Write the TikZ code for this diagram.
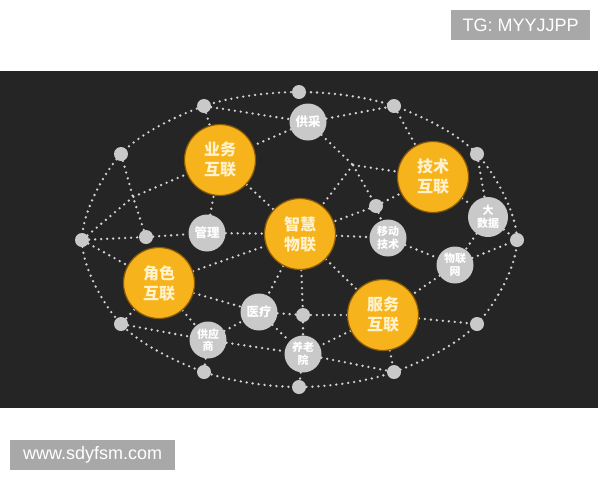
\documentclass[tikz,border=0pt]{standalone}
\usepackage{fontspec}
\setmainfont{Liberation Sans}
\newfontfamily\cjk{Noto Sans CJK SC}
\definecolor{myorange}{HTML}{F7B31B}
\definecolor{myorangedark}{HTML}{8A5A05}
\definecolor{mycream}{HTML}{FFF2CC}
\definecolor{mygray}{HTML}{C9C9C9}
\definecolor{mydot}{HTML}{D2D2D2}
\definecolor{bgdark}{HTML}{252525}
\definecolor{labelgray}{HTML}{A8A8A8}
\pgfdeclarelayer{bglayer}
\pgfdeclarelayer{linelayer}
\pgfsetlayers{bglayer,linelayer,main}
\begin{document}
\begin{tikzpicture}[x=1pt,y=-1pt,
  bignode/.style={circle, fill=myorange, draw=myorangedark, line width=1.2pt, minimum size=71pt, inner sep=0pt, text=mycream, font=\cjk\bfseries\fontsize{16}{20}\selectfont, align=center},
  midnode/.style={circle, fill=mygray, minimum size=37pt, inner sep=0pt, text=white, font=\cjk\bfseries\fontsize{11}{12.5}\selectfont, align=center},
  bigtext/.style={font=\cjk\bfseries\fontsize{12.5}{14}\selectfont},
  dotnode/.style={circle, fill=mygray, minimum size=14pt, inner sep=0pt},
  dotline/.style={draw=mydot, line width=2.6pt, line cap=round, dash pattern=on 0pt off 6pt},
  tag/.style={fill=labelgray, text=white, font=\fontsize{18}{20}\selectfont, inner sep=0pt, anchor=north west},
]
\useasboundingbox (0,0) rectangle (600,480);
\begin{pgfonlayer}{bglayer}
  \fill[bgdark] (0,71) rectangle (598,408);
\end{pgfonlayer}

% big orange nodes
\node[bignode] (yw) at (220,160) {业务\\互联};
\node[bignode] (js) at (433,177) {技术\\互联};
\node[bignode] (zh) at (300,234) {智慧\\物联};
\node[bignode] (jr) at (159,283) {角色\\互联};
\node[bignode] (fw) at (383,315) {服务\\互联};

% gray medium nodes
\node[midnode, bigtext] (gc) at (308,122) {供采};
\node[midnode, bigtext] (gl) at (207,233) {管理};
\node[midnode] (yd) at (388,238) {移动\\技术};
\node[midnode, minimum size=40pt] (dsj) at (488,217) {大\\数据};
\node[midnode] (wlw) at (455,265) {物联\\网};
\node[midnode, bigtext] (yl) at (259,312) {医疗};
\node[midnode] (gys) at (208,340) {供应\\商};
\node[midnode] (yly) at (303,354) {养老\\院};

% small dots
\node[dotnode] (o1) at (204,106) {};
\node[dotnode] (o2) at (299,92) {};
\node[dotnode] (o3) at (394,106) {};
\node[dotnode] (o4) at (477,154) {};
\node[dotnode] (o5) at (517,240) {};
\node[dotnode] (o6) at (477,324) {};
\node[dotnode] (o7) at (394,372) {};
\node[dotnode] (o8) at (299,387) {};
\node[dotnode] (o9) at (204,372) {};
\node[dotnode] (o10) at (121,324) {};
\node[dotnode] (o11) at (82,240) {};
\node[dotnode] (o12) at (121,154) {};
\node[dotnode] (i1) at (146,237) {};
\node[dotnode] (i2) at (376,206) {};
\node[dotnode] (i3) at (303,315) {};

\coordinate (J1) at (353,165);
\coordinate (J2) at (133,197);

% labels
\node[tag, minimum width=139pt, minimum height=30pt] (tg) at (451,10) {TG: MYYJJPP};
\node[tag, minimum width=165pt, minimum height=30pt] (www) at (10,440) {www.sdyfsm.com};

\begin{pgfonlayer}{linelayer}
  \draw[dotline] plot[smooth cycle, tension=0.55] coordinates {(o1) (o2) (o3) (o4) (o5) (o6) (o7) (o8) (o9) (o10) (o11) (o12)};
  \draw[dotline] (o1) -- (gc);
  \draw[dotline] (gc) -- (o3);
  \draw[dotline] (gc) -- (yw);
  \draw[dotline] (o1) -- (yw);
  \draw[dotline] (gc) -- (J1);
  \draw[dotline] (J1) -- (js);
  \draw[dotline] (J1) -- (zh);
  \draw[dotline] (J1) -- (i2);
  \draw[dotline] (i2) -- (js);
  \draw[dotline] (i2) -- (zh);
  \draw[dotline] (i2) -- (yd);
  \draw[dotline] (o3) -- (js);
  \draw[dotline] (o4) -- (dsj);
  \draw[dotline] (js) -- (dsj);
  \draw[dotline] (dsj) -- (o5);
  \draw[dotline] (dsj) -- (wlw);
  \draw[dotline] (yd) -- (wlw);
  \draw[dotline] (wlw) -- (o5);
  \draw[dotline] (wlw) -- (fw);
  \draw[dotline] (fw) -- (o6);
  \draw[dotline] (fw) -- (o7);
  \draw[dotline] (fw) -- (i3);
  \draw[dotline] (fw) -- (yly);
  \draw[dotline] (zh) -- (fw);
  \draw[dotline] (zh) -- (yd);
  \draw[dotline] (zh) -- (i3);
  \draw[dotline] (i3) -- (yly);
  \draw[dotline] (zh) -- (yl);
  \draw[dotline] (yl) -- (i3);
  \draw[dotline] (yl) -- (yly);
  \draw[dotline] (yly) -- (o8);
  \draw[dotline] (yly) -- (o7);
  \draw[dotline] (gys) -- (yly);
  \draw[dotline] (gys) -- (yl);
  \draw[dotline] (gys) -- (o9);
  \draw[dotline] (o10) -- (gys);
  \draw[dotline] (jr) -- (gys);
  \draw[dotline] (jr) -- (o10);
  \draw[dotline] (jr) -- (yl);
  \draw[dotline] (jr) -- (zh);
  \draw[dotline] (o11) -- (jr);
  \draw[dotline] (o11) -- (i1);
  \draw[dotline] (i1) -- (gl);
  \draw[dotline] (gl) -- (zh);
  \draw[dotline] (gl) -- (yw);
  \draw[dotline] (yw) -- (zh);
  \draw[dotline] (o12) -- (J2) -- (i1);
  \draw[dotline] (o11) -- (J2) -- (yw);
\end{pgfonlayer}
\end{tikzpicture}
\end{document}
